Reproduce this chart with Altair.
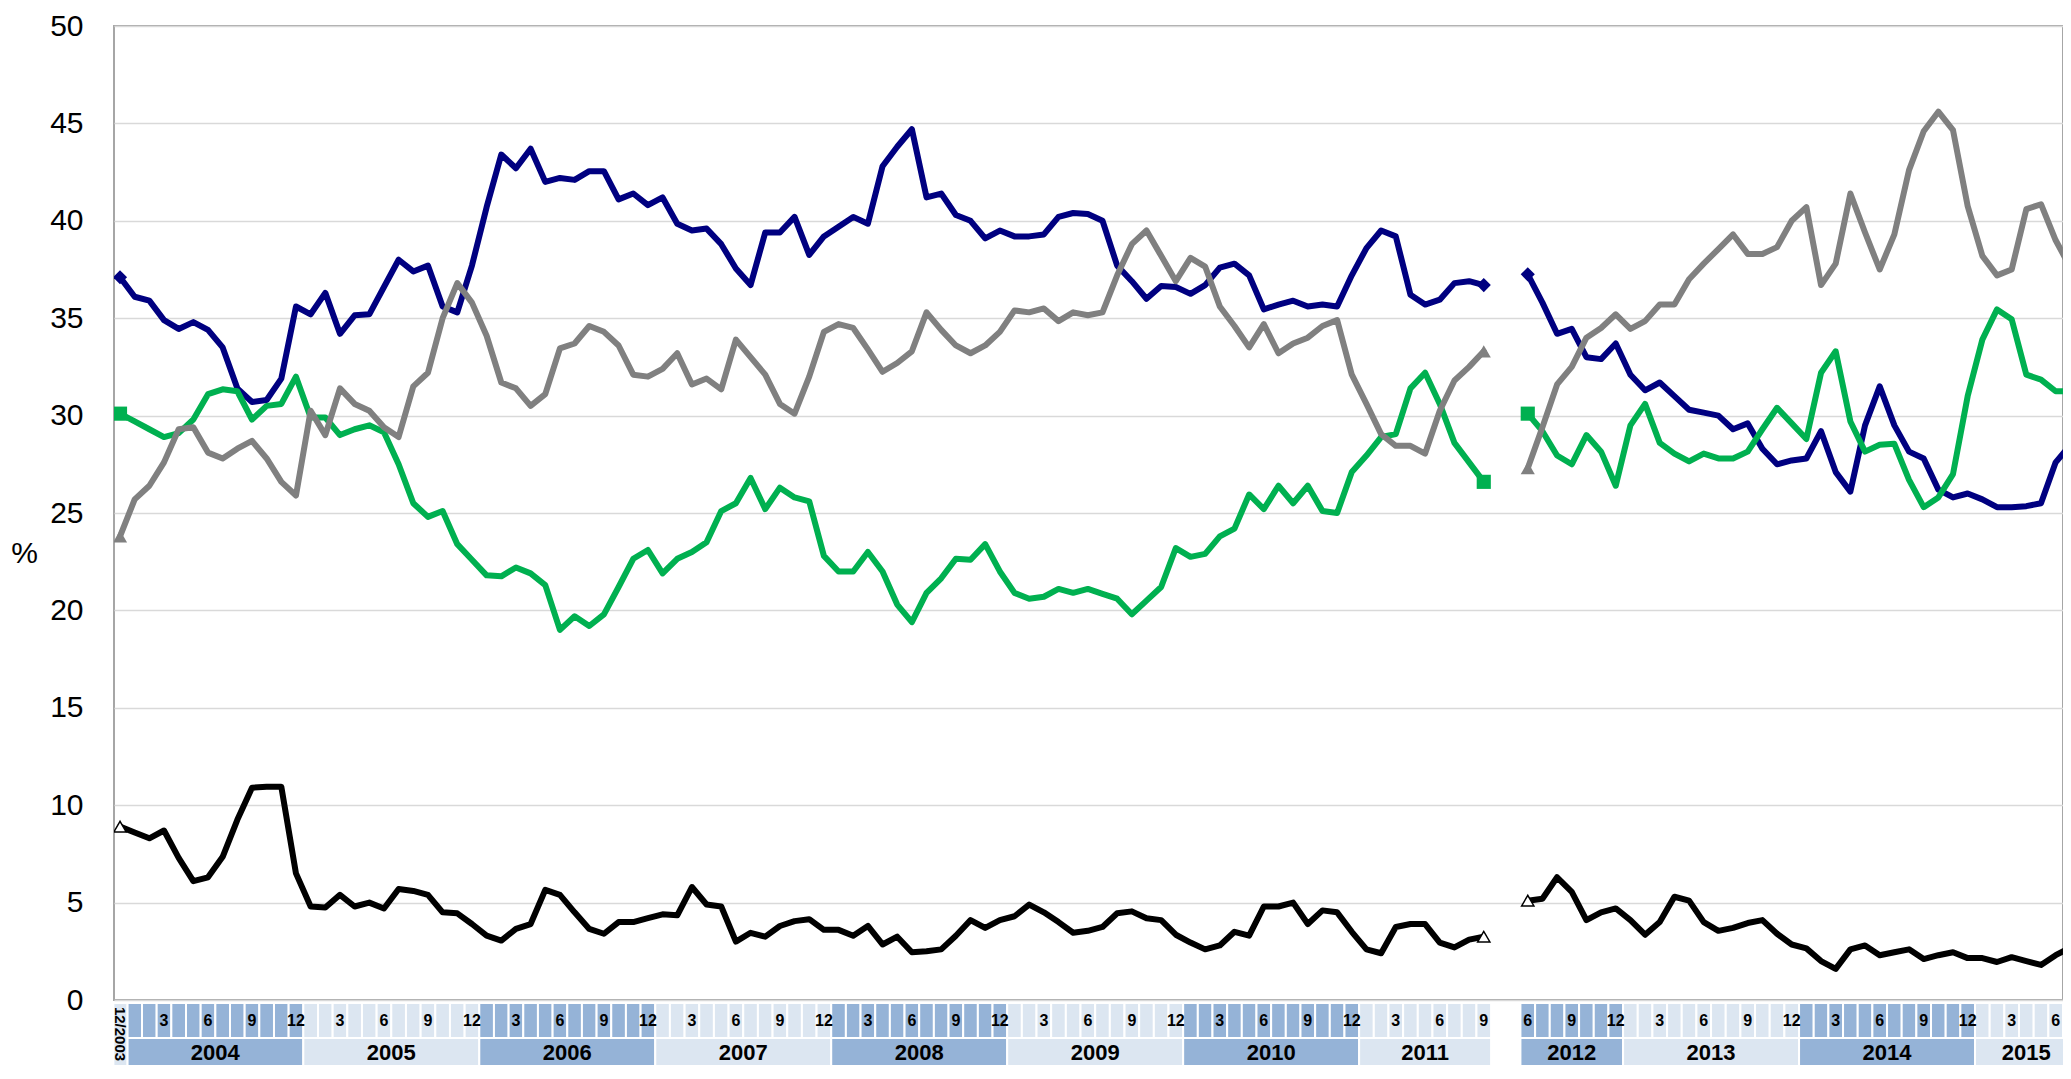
import altair as alt
import pandas as pd

# ---------------- categories ----------------
def month_list(y0, m0, y1, m1):
    out = []
    y, m = y0, m0
    while (y, m) <= (y1, m1):
        out.append((y, m))
        m += 1
        if m > 12:
            m, y = 1, y + 1
    return out

SEG1_MONTHS = month_list(2003, 12, 2011, 9)   # 94 monthly categories
SEG2_MONTHS = month_list(2012, 6, 2015, 7)    # 38 monthly categories
GAP = 2                                      # empty categories between the two periods

SERIES = ["Series A", "Series B", "Series C", "Series D"]
COLORS = ["#000080", "#00B050", "#808080", "#000000"]
SHAPES = ["diamond", "square", "triangle-up"]

# ---------------- values (%) ----------------
navy_1 = [37.1, 36.1, 35.9, 34.9, 34.45, 34.8, 34.4, 33.5, 31.4, 30.7,
          30.8, 31.9, 35.6, 35.2, 36.3, 34.2, 35.15, 35.2, 36.6, 38.0,
          37.4, 37.7, 35.6, 35.3, 37.7, 40.7, 43.4, 42.7, 43.7, 42.0,
          42.2, 42.1, 42.55, 42.55, 41.1, 41.4, 40.8, 41.2, 39.85, 39.5,
          39.6, 38.8, 37.55, 36.7, 39.4, 39.4, 40.2, 38.25, 39.2, 39.7,
          40.2, 39.85, 42.8, 43.8, 44.7, 41.2, 41.4, 40.3, 40.0, 39.1,
          39.5, 39.2, 39.2, 39.3, 40.2, 40.4, 40.35, 40.0, 37.7, 36.9,
          36.0, 36.65, 36.6, 36.25, 36.7, 37.6, 37.8, 37.2, 35.45, 35.7,
          35.9, 35.6, 35.7, 35.6, 37.2, 38.6, 39.5, 39.2, 36.2, 35.7,
          35.95, 36.8, 36.9, 36.7]
navy_2 = [37.25, 35.8, 34.2, 34.45, 33.0, 32.9, 33.7, 32.1, 31.3, 31.7,
          31.0, 30.3, 30.15, 30.0, 29.3, 29.6, 28.3, 27.5, 27.7, 27.8,
          29.2, 27.1, 26.1, 29.5, 31.5, 29.5, 28.15, 27.8, 26.2, 25.8,
          26.0, 25.7, 25.3, 25.3, 25.35, 25.5, 27.6, 28.5]

green_1 = [30.1, 29.7, 29.3, 28.9, 29.1, 29.8, 31.1, 31.35, 31.25, 29.8,
           30.5, 30.6, 32.0, 29.9, 29.9, 29.0, 29.3, 29.5, 29.15, 27.5,
           25.5, 24.8, 25.1, 23.4, 22.6, 21.8, 21.75, 22.2, 21.9, 21.3,
           19.0, 19.7, 19.2, 19.8, 21.2, 22.65, 23.1, 21.9, 22.65, 23.0,
           23.5, 25.1, 25.5, 26.8, 25.2, 26.3, 25.8, 25.6, 22.8, 22.0,
           22.0, 23.0, 22.0, 20.3, 19.4, 20.9, 21.65, 22.65, 22.6, 23.4,
           22.0, 20.9, 20.6, 20.7, 21.1, 20.9, 21.1, 20.85, 20.6, 19.8,
           20.5, 21.2, 23.2, 22.75, 22.9, 23.8, 24.2, 25.95, 25.2, 26.4,
           25.5, 26.4, 25.1, 25.0, 27.1, 27.95, 28.9, 29.05, 31.4, 32.2,
           30.6, 28.6, 27.6, 26.6]
green_2 = [30.1, 29.2, 27.95, 27.5, 29.0, 28.15, 26.4, 29.5, 30.6, 28.6,
           28.05, 27.65, 28.05, 27.8, 27.8, 28.15, 29.3, 30.4, 29.6, 28.8,
           32.2, 33.3, 29.7, 28.15, 28.5, 28.55, 26.7, 25.3, 25.8, 27.0,
           31.0, 33.9, 35.45, 34.95, 32.1, 31.85, 31.25, 31.25]

grey_1 = [23.8, 25.7, 26.4, 27.6, 29.3, 29.4, 28.1, 27.8, 28.3, 28.7,
          27.8, 26.6, 25.9, 30.25, 29.0, 31.4, 30.6, 30.25, 29.4, 28.9,
          31.5, 32.2, 35.0, 36.8, 35.8, 34.1, 31.7, 31.4, 30.5, 31.1,
          33.45, 33.7, 34.6, 34.3, 33.6, 32.1, 32.0, 32.4, 33.2, 31.6,
          31.9, 31.35, 33.9, 33.0, 32.1, 30.6, 30.1, 32.0, 34.3, 34.7,
          34.5, 33.4, 32.25, 32.7, 33.3, 35.3, 34.4, 33.6, 33.2, 33.6,
          34.3, 35.4, 35.3, 35.5, 34.85, 35.3, 35.15, 35.3, 37.2, 38.8,
          39.5, 38.2, 36.9, 38.1, 37.65, 35.6, 34.6, 33.5, 34.7, 33.2,
          33.7, 34.0, 34.6, 34.9, 32.1, 30.6, 29.05, 28.45, 28.45, 28.05,
          30.25, 31.8, 32.5, 33.3]
grey_2 = [27.3, 29.4, 31.6, 32.5, 34.0, 34.5, 35.2, 34.45, 34.85, 35.7,
          35.7, 37.0, 37.8, 38.55, 39.3, 38.3, 38.3, 38.65, 40.0, 40.7,
          36.7, 37.8, 41.4, 39.4, 37.5, 39.3, 42.6, 44.6, 45.6, 44.65,
          40.75, 38.2, 37.2, 37.5, 40.6, 40.85, 39.0, 37.6]

black_1 = [8.9, 8.6, 8.3, 8.7, 7.3, 6.1, 6.3, 7.35, 9.25, 10.9,
           10.95, 10.95, 6.5, 4.8, 4.75, 5.4, 4.8, 5.0, 4.7, 5.7,
           5.6, 5.4, 4.5, 4.45, 3.9, 3.3, 3.05, 3.65, 3.9, 5.65,
           5.4, 4.5, 3.65, 3.4, 4.0, 4.0, 4.2, 4.4, 4.35, 5.8,
           4.9, 4.8, 3.0, 3.45, 3.25, 3.8, 4.05, 4.15, 3.6, 3.6,
           3.3, 3.8, 2.85, 3.25, 2.45, 2.5, 2.6, 3.3, 4.1, 3.7,
           4.1, 4.3, 4.9, 4.5, 4.0, 3.45, 3.55, 3.75, 4.45, 4.55,
           4.2, 4.1, 3.35, 2.95, 2.6, 2.8, 3.5, 3.3, 4.8, 4.8,
           5.0, 3.9, 4.6, 4.5, 3.5, 2.6, 2.4, 3.75, 3.9, 3.9,
           2.95, 2.7, 3.1, 3.25]
black_2 = [5.1, 5.2, 6.3, 5.55, 4.1, 4.5, 4.7, 4.1, 3.35, 4.0,
           5.3, 5.1, 4.0, 3.55, 3.7, 3.95, 4.1, 3.4, 2.85, 2.65,
           2.0, 1.6, 2.6, 2.8, 2.3, 2.45, 2.6, 2.1, 2.3, 2.45,
           2.15, 2.15, 1.95, 2.2, 2.0, 1.8, 2.3, 2.7]

SERIES_VALUES = {
    "Series A": (navy_1, navy_2),
    "Series B": (green_1, green_2),
    "Series C": (grey_1, grey_2),
    "Series D": (black_1, black_2),
}

# ---------------- tables ----------------
pos1 = list(range(len(SEG1_MONTHS)))
pos2 = [len(SEG1_MONTHS) + GAP + k for k in range(len(SEG2_MONTHS))]

rows = []
for name, (v1, v2) in SERIES_VALUES.items():
    for seg, (pos, vals) in enumerate([(pos1, v1), (pos2, v2)]):
        for p, v in zip(pos, vals):
            rows.append({"series": name, "segment": f"{name}-{seg}", "pos": p, "value": v})
df = pd.DataFrame(rows)

ends = df.groupby("segment").apply(lambda g: g.iloc[[0, -1]], include_groups=False).reset_index(level=0)
ends["series"] = ends["segment"].str.split("-").str[0]
ends_filled = ends[ends["series"] != "Series D"]
ends_open = ends[ends["series"] == "Series D"]

cells = []
for pos, months in ((pos1, SEG1_MONTHS), (pos2, SEG2_MONTHS)):
    for p, (y, m) in zip(pos, months):
        cells.append({"pos": p, "year": y, "month": m,
                      "band": "dark" if y % 2 == 0 else "light",
                      "label": str(m)})
cells_df = pd.DataFrame(cells)
years_df = (cells_df.groupby(["year"]).agg(lo=("pos", "min"), hi=("pos", "max"), band=("band", "first"))
            .reset_index())
years_df["label"] = years_df["year"].astype(str)

# ---------------- chart ----------------
X_DOMAIN = [-0.41, 132.5]
W = 1949
H = 974
NARROW = "Liberation Sans Narrow, Liberation Sans, Arial, sans-serif"
SANS = "Liberation Sans, Arial, sans-serif"

xs = alt.Scale(domain=X_DOMAIN, nice=False, zero=False)
ys = alt.Scale(domain=[0, 50], nice=False, zero=True)
band_fill = alt.Fill("band:N", scale=alt.Scale(domain=["dark", "light"], range=["#95B3D7", "#DCE6F1"]),
                     legend=None)

MONTH_TOP, MONTH_BOT, YEAR_BOT = 977, 1012, 1040

month_cells = alt.Chart(cells_df).transform_filter("datum.year > 2003").transform_calculate(
    a="datum.pos - 0.5", b="datum.pos + 0.5"
).mark_rect(stroke="white", strokeWidth=2).encode(
    x=alt.X("a:Q", scale=xs, axis=None), x2="b:Q",
    y=alt.value(MONTH_TOP), y2=alt.value(MONTH_BOT), fill=band_fill)

year_cells = alt.Chart(years_df).transform_filter("datum.year > 2003").transform_calculate(
    a="datum.lo - 0.5", b="datum.hi + 0.5"
).mark_rect(stroke="white", strokeWidth=2).encode(
    x=alt.X("a:Q", scale=xs, axis=None), x2="b:Q",
    y=alt.value(MONTH_BOT), y2=alt.value(YEAR_BOT), fill=band_fill)

first_cell = alt.Chart(years_df).transform_filter("datum.year == 2003").transform_calculate(
    a="datum.lo - 0.45", b="datum.hi + 0.5"
).mark_rect(stroke="white", strokeWidth=2).encode(
    x=alt.X("a:Q", scale=xs, axis=None), x2="b:Q",
    y=alt.value(MONTH_TOP), y2=alt.value(YEAR_BOT), fill=band_fill)

month_text = alt.Chart(cells_df).transform_filter(
    "datum.year > 2003 && datum.month % 3 == 0"
).mark_text(font=NARROW, fontSize=16, fontWeight="bold", color="black", baseline="middle").encode(
    x=alt.X("pos:Q", scale=xs, axis=None), y=alt.value(995), text="label:N")

year_text = alt.Chart(years_df).transform_filter("datum.year > 2003").transform_calculate(
    c="(datum.lo + datum.hi) / 2"
).mark_text(font=NARROW, fontSize=22, fontWeight="bold", color="black", baseline="middle").encode(
    x=alt.X("c:Q", scale=xs, axis=None), y=alt.value(1027), text="label:N")

first_text = alt.Chart(cells_df).transform_filter("datum.year == 2003").transform_calculate(
    t="datum.month + '/' + datum.year"
).mark_text(font=SANS, fontSize=15, fontWeight="bold", color="black", angle=90,
            baseline="middle", align="center").encode(
    x=alt.X("pos:Q", scale=xs, axis=None), y=alt.value(1008), text="t:N")

color_enc = alt.Color("series:N", scale=alt.Scale(domain=SERIES, range=COLORS), legend=None)

lines = alt.Chart(df).mark_line(strokeWidth=6, strokeJoin="round", strokeCap="round", clip=True).encode(
    x=alt.X("pos:Q", scale=xs, axis=None),
    y=alt.Y("value:Q", scale=ys, axis=alt.Axis(
        values=list(range(0, 55, 5)), labelFont=SANS, labelFontSize=30, labelColor="black",
        labelPadding=31, ticks=False, domain=False, grid=True, gridColor="#D9D9D9", gridWidth=1.5,
        title="%", titleFont=SANS, titleFontSize=30, titleFontWeight="normal", titleColor="black",
        titleAngle=0, titleX=-90, titleY=527, titleAlign="center", titleBaseline="middle")),
    color=color_enc,
    detail="segment:N",
)

pts = alt.Chart(ends_filled).mark_point(filled=True, opacity=1, size=200, clip=True).encode(
    x=alt.X("pos:Q", scale=xs, axis=None),
    y=alt.Y("value:Q", scale=ys),
    color=color_enc,
    shape=alt.Shape("series:N", scale=alt.Scale(domain=SERIES[:3], range=SHAPES), legend=None),
)

pts_open = alt.Chart(ends_open).mark_point(shape="triangle-up", filled=True, fill="white", stroke="black",
                                           strokeWidth=1.5, opacity=1, size=150, clip=True).encode(
    x=alt.X("pos:Q", scale=xs, axis=None),
    y=alt.Y("value:Q", scale=ys),
)

chart = alt.layer(
    month_cells, year_cells, first_cell, month_text, year_text, first_text, lines, pts, pts_open
).properties(
    width=W, height=H,
    padding={"left": 106, "top": 18, "right": 0, "bottom": 66},
    autosize=alt.AutoSizeParams(type="none"),
    background="white",
).configure_view(stroke="#A6A6A6", strokeWidth=2)

chart.save("out.html", embed_options={"renderer": "svg", "actions": False})
